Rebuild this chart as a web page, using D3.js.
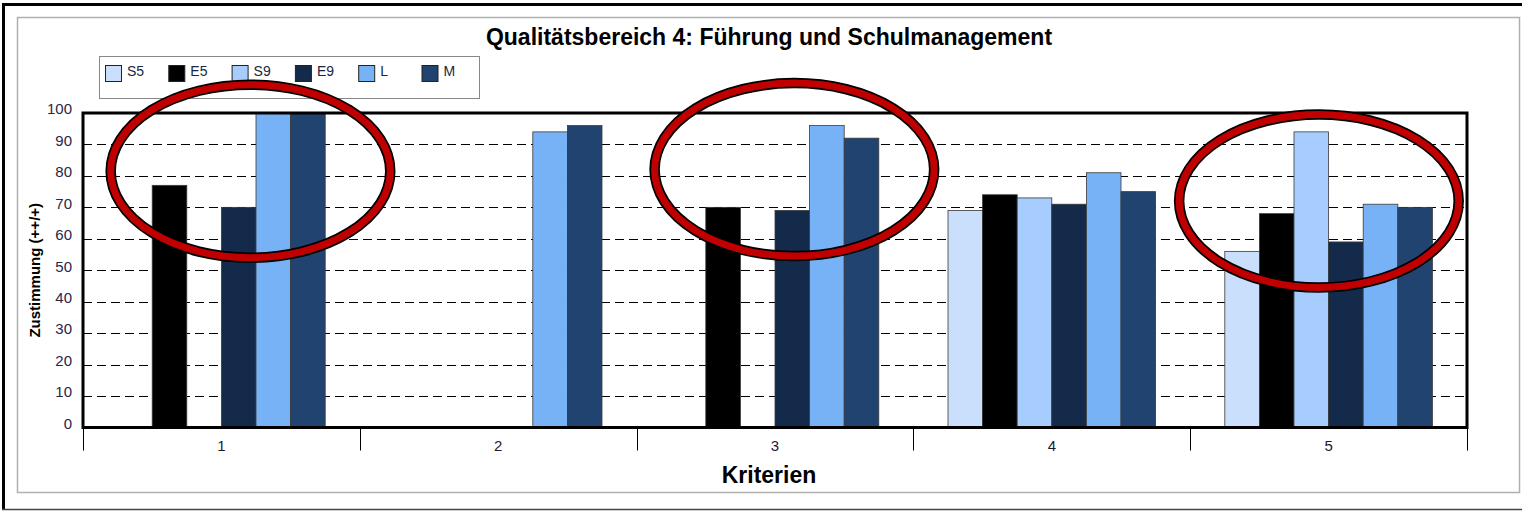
<!DOCTYPE html>
<html>
<head>
<meta charset="utf-8">
<script src="https://cdn.jsdelivr.net/npm/d3@7"></script>
<style>
  body { margin: 0; background: #fff; }
  svg { display: block; font-family: "Liberation Sans", Arial, sans-serif; }
</style>
</head>
<body>
<svg id="chart" width="1522" height="511"></svg>
<script>
// chart data
const categories = ['1', '2', '3', '4', '5']
const series = ['S5', 'E5', 'S9', 'E9', 'L', 'M']
const colors = ['#c9dffc', '#000000', '#a6cdfd', '#132a4a', '#78b2f6', '#21436f']

// one array per series, null = no bar
const valS5 = [null, null, null, 69, 56]
const valE5 = [77, null, 70, 74, 68]
const valS9 = [null, null, null, 73, 94]
const valE9 = [70, null, 69, 71, 59]
const valL = [100, 94, 96, 81, 71]
const valM = [100, 96, 92, 75, 70]
const allValues = [valS5, valE5, valS9, valE9, valL, valM]

const yTicks = [0, 10, 20, 30, 40, 50, 60, 70, 80, 90, 100]

// red circles drawn over the chart (category, centre within band, value, radii)
const marks = [
  { cat: '1', at: 0.605, v: 81.5, rx: 0.505, rv: 27.5 },
  { cat: '3', at: 0.57, v: 82, rx: 0.505, rv: 27.5 },
  { cat: '5', at: 0.465, v: 72, rx: 0.505, rv: 27.5 }
]

const svg = d3.select('#chart')

// outer page frame
svg.append('line').attr('x1', 3.5).attr('x2', 3.5).attr('y1', 3).attr('y2', 510)
  .attr('stroke', '#000').attr('stroke-width', 3)
svg.append('line').attr('x1', 2).attr('x2', 1522).attr('y1', 4.5).attr('y2', 4.5)
  .attr('stroke', '#000').attr('stroke-width', 3)
svg.append('line').attr('x1', 2).attr('x2', 1522).attr('y1', 509.5).attr('y2', 509.5)
  .attr('stroke', '#444').attr('stroke-width', 1.5)
svg.append('rect').attr('x', 17.5).attr('y', 17.5).attr('width', 1502).attr('height', 475)
  .attr('fill', 'none').attr('stroke', '#b0b0b0').attr('stroke-width', 1.5)

const pLeft = 83, pRight = 1467, pTop = 113, pBottom = 427.5

const x0 = d3.scaleBand().domain(categories).range([pLeft, pRight])
const bw = x0.bandwidth()
const x1 = d3.scaleBand().domain(series).range([bw * 0.125, bw * 0.875])
const y = d3.scaleLinear().domain([0, 100]).range([pBottom, pTop])

// title
svg.append('text').attr('x', 769).attr('y', 45).attr('text-anchor', 'middle')
  .attr('font-size', 23).attr('font-weight', 'bold').attr('fill', '#000')
  .text('Qualitätsbereich 4: Führung und Schulmanagement')

// gridlines
svg.append('g').selectAll('line')
  .data(yTicks.filter(t => t > 0 && t < 100))
  .enter().append('line')
  .attr('x1', pLeft).attr('x2', pRight)
  .attr('y1', d => Math.round(y(d)) + 0.5).attr('y2', d => Math.round(y(d)) + 0.5)
  .attr('stroke', '#000').attr('stroke-width', 1)
  .attr('stroke-dasharray', '9,5')

// bars
const rows = []
categories.forEach((c, ci) => {
  series.forEach((s, si) => {
    const v = allValues[si][ci]
    if (v != null) rows.push({ cat: c, s: s, v: v, color: colors[si] })
  })
})

svg.append('g').selectAll('rect')
  .data(rows)
  .enter().append('rect')
  .attr('x', d => x0(d.cat) + x1(d.s))
  .attr('width', x1.bandwidth())
  .attr('y', d => y(d.v))
  .attr('height', d => y(0) - y(d.v))
  .attr('fill', d => d.color)
  .attr('stroke', '#3a3a3a')
  .attr('stroke-width', 0.8)

// plot frame
svg.append('rect').attr('x', pLeft).attr('y', pTop)
  .attr('width', pRight - pLeft).attr('height', pBottom - pTop)
  .attr('fill', 'none').attr('stroke', '#000').attr('stroke-width', 3)

// y axis labels (sit a little above their gridlines in the original)
const yAxis = svg.append('g')
  .attr('transform', 'translate(' + (pLeft - 1) + ',-4)')
  .call(d3.axisLeft(y).tickValues(yTicks).tickSize(0).tickPadding(10))
yAxis.select('.domain').remove()
yAxis.selectAll('text').attr('font-size', 15).attr('fill', '#2a2548')
  .attr('font-family', '"Liberation Sans", Arial, sans-serif')

svg.append('text')
  .attr('transform', 'translate(40,' + ((pTop + pBottom) / 2) + ') rotate(-90)')
  .attr('text-anchor', 'middle').attr('font-size', 15).attr('font-weight', 'bold')
  .attr('fill', '#000')
  .text('Zustimmung (++/+)')

// x axis
const xAxis = svg.append('g')
  .attr('transform', 'translate(0,' + (pBottom + 1.5) + ')')
  .call(d3.axisBottom(x0).tickSize(0).tickPadding(11))
xAxis.select('.domain').remove()
xAxis.selectAll('text').attr('font-size', 15).attr('fill', '#1a1a2e')
  .attr('font-family', '"Liberation Sans", Arial, sans-serif')

const bounds = categories.map(c => x0(c)).concat([pRight])
svg.append('g').selectAll('line')
  .data(bounds)
  .enter().append('line')
  .attr('x1', d => Math.round(d) + 0.5).attr('x2', d => Math.round(d) + 0.5)
  .attr('y1', pBottom).attr('y2', pBottom + 23)
  .attr('stroke', '#000').attr('stroke-width', 1)

svg.append('text').attr('x', 769).attr('y', 483).attr('text-anchor', 'middle')
  .attr('font-size', 23).attr('font-weight', 'bold').attr('fill', '#000')
  .text('Kriterien')

// legend
const legend = svg.append('g').attr('transform', 'translate(99,56)')
legend.append('rect').attr('x', 0.5).attr('y', 0.5).attr('width', 380).attr('height', 42)
  .attr('fill', '#fff').attr('stroke', '#888').attr('stroke-width', 1)
const li = legend.selectAll('g.item')
  .data(series)
  .enter().append('g').attr('class', 'item')
  .attr('transform', (d, i) => 'translate(' + (6.5 + i * 63.3) + ',9.5)')
li.append('rect').attr('width', 16).attr('height', 16)
  .attr('fill', (d, i) => colors[i]).attr('stroke', '#222').attr('stroke-width', 1)
li.append('text').attr('x', 21.5).attr('y', 10).attr('font-size', 14)
  .attr('fill', '#1a2540').text(d => d)

// red ellipses on top
const ann = svg.append('g')
ann.selectAll('ellipse.o')
  .data(marks).enter().append('ellipse').attr('class', 'o')
  .attr('cx', d => x0(d.cat) + d.at * bw)
  .attr('cy', d => y(d.v))
  .attr('rx', d => d.rx * bw)
  .attr('ry', d => y(0) - y(d.rv))
  .attr('fill', 'none').attr('stroke', '#000').attr('stroke-width', 10.5)
ann.selectAll('ellipse.i')
  .data(marks).enter().append('ellipse').attr('class', 'i')
  .attr('cx', d => x0(d.cat) + d.at * bw)
  .attr('cy', d => y(d.v))
  .attr('rx', d => d.rx * bw)
  .attr('ry', d => y(0) - y(d.rv))
  .attr('fill', 'none').attr('stroke', '#c00000').attr('stroke-width', 7)
</script>
</body>
</html>
